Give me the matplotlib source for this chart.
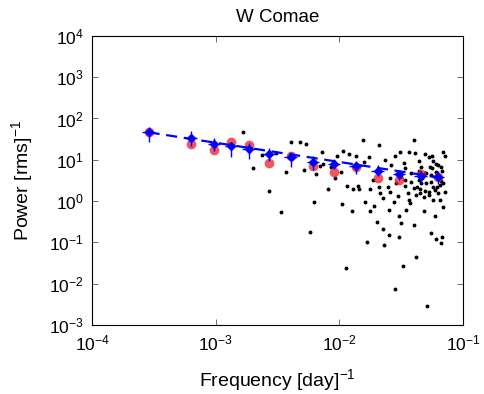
import numpy as np
import matplotlib.pyplot as plt

plt.rcParams['font.family'] = ['Liberation Sans', 'DejaVu Sans']
plt.rcParams['mathtext.fontset'] = 'custom'
plt.rcParams['mathtext.rm'] = 'Liberation Sans'

# raw periodogram (log10 frequency, log10 power)
raw_logf = [-2.78, -2.70, -2.63, -2.57, -2.51, -2.47, -2.43, -2.39, -2.32, -2.27,
            -2.29, -2.24, -2.21, -2.19, -2.16, -2.14, -2.13, -2.09, -2.07, -2.04,
            -2.02, -1.99, -1.98, -1.97, -1.95, -1.94, -1.92, -1.90, -1.89, -1.87,
            -1.85, -1.84, -1.81, -1.80, -1.79, -1.78, -1.76, -1.75, -1.75, -1.73,
            -1.72, -1.70, -1.68, -1.68, -1.67, -1.65, -1.65, -1.64, -1.63, -1.61,
            -1.60, -1.60, -1.59, -1.58, -1.56, -1.55, -1.55, -1.54, -1.53, -1.52,
            -1.52, -1.51, -1.50, -1.50, -1.49, -1.48, -1.47, -1.47, -1.46, -1.45,
            -1.44, -1.44, -1.43, -1.42, -1.42, -1.40, -1.40, -1.39, -1.38, -1.38,
            -1.37, -1.36, -1.36, -1.35, -1.34, -1.32, -1.32, -1.31, -1.31, -1.30,
            -1.29, -1.28, -1.28, -1.27, -1.26, -1.26, -1.25, -1.24, -1.24, -1.23,
            -1.22, -1.22, -1.21, -1.20, -1.20, -1.19, -1.18, -1.18, -1.17, -1.16,
            -1.16, -1.16, -1.15, -1.15,
            -1.36, -1.33, -1.30, -1.26, -1.23, -1.19, -1.34, -1.28, -1.22, -1.18,
            -1.47, -1.59, -1.40, -1.24, -1.21, -1.17, -1.31, -1.25, -1.35, -1.19]
raw_logp = [1.67, 0.79, 1.11, 0.24, 1.16, -0.26, 0.71, 1.42, 1.43, 1.39,
            0.75, -0.75, -0.01, 0.66, 0.84, 1.20, 0.89, 0.29, 0.83, 0.56,
            1.10, 0.70, -0.07, 1.22, -1.62, 0.37, 1.13, -0.23, 0.29, 1.09,
            0.37, 0.29, 1.48, 0.95, -0.02, -1.00, 1.06, -0.25, 0.29, 0.51,
            -0.11, -0.51, 1.35, 0.35, 0.19, 0.07, -0.67, -1.07, 1.00, 0.35,
            -0.21, -0.83, 0.23, 0.88, -0.01, -2.13, 1.10, 0.43, 0.13, -0.35,
            -0.88, 1.18, -0.54, 0.59, -1.57, 0.92, 0.37, 0.52, -0.22, 0.19,
            1.18, 0.03, -0.05, 0.47, 0.67, -0.59, 1.49, 1.16, 0.15, -1.36,
            0.35, 0.98, 0.51, 0.19, 0.83, 0.11, -0.25, 1.14, 0.67, 0.43,
            -2.53, 1.06, 0.23, 0.83, -0.78, 0.47, 1.10, 0.03, 0.98, -0.37,
            0.71, -0.92, 0.35, 0.19, 0.87, 0.03, -1.02, 0.48, -0.86, 1.18,
            -0.15, 0.43, 0.23, 1.08,
            0.73, 0.55, 0.67, 0.63, 0.27, 0.55, 0.43, 0.15, 0.90, 0.83,
            0.79, 0.55, 0.31, 0.35, 0.62, 0.72, 0.25, 0.80, 0.30, 0.40]

# binned power spectrum
bin_freq = [2.86e-4, 6.3e-4, 9.7e-4, 1.32e-3, 1.84e-3, 2.69e-3, 4.02e-3,
            6.1e-3, 9.0e-3, 1.35e-2, 2.03e-2, 3.02e-2, 4.53e-2, 6.27e-2]
bin_power = [46, 33, 24, 21, 18, 14, 11.7, 9.0, 7.9, 6.9, 5.4, 4.5, 4.0, 3.8]
err_up_dex = [0.14, 0.17, 0.14, 0.09, 0.15, 0.13, 0.13, 0.13, 0.12, 0.13, 0.13, 0.11, 0.12, 0.14]
err_lo_dex = [0.24, 0.19, 0.17, 0.25, 0.23, 0.17, 0.24, 0.19, 0.13, 0.19, 0.13, 0.14, 0.16, 0.17]
model_power = [46, 24, 17, 27, 23, 8.4, 12.6, 7.2, 5.1, 6.6, 3.66, 3.2, 4.6, 3.8]

# power-law fit P = A * f^alpha
fit_amp = 1.04
fit_index = -0.465

bin_freq = np.array(bin_freq)
bin_power = np.array(bin_power)
yerr = [bin_power * (1 - 10**-np.array(err_lo_dex)),
        bin_power * (10**np.array(err_up_dex) - 1)]
xerr = [bin_freq * (1 - 10**-0.05), bin_freq * (10**0.05 - 1)]

fig = plt.figure(figsize=(4.85, 3.94), dpi=100)
ax = fig.add_axes([0.19, 0.175, 0.765, 0.734])

ax.plot(10**np.array(raw_logf), 10**np.array(raw_logp), 'o', color='black',
        markersize=1.8, zorder=2)
ax.plot(bin_freq, model_power, 'o', color='#ee1c24', alpha=0.75,
        markersize=7, markeredgewidth=0, zorder=3)
ax.errorbar(bin_freq, bin_power, yerr=yerr, xerr=xerr, fmt='D', color='blue',
            markersize=4.5, elinewidth=1.0, capsize=0, zorder=4)
fline = np.array([bin_freq[0], bin_freq[-1]])
ax.plot(fline, fit_amp * fline**fit_index, '--', color='blue', linewidth=1.6,
        dashes=(5, 3), zorder=5)

ax.set_xscale('log')
ax.set_yscale('log')
ax.set_xlim(1e-4, 1e-1)
ax.set_ylim(1e-3, 1e4)
ax.set_xticks([1e-4, 1e-3, 1e-2, 1e-1])
ax.set_yticks([1e-3, 1e-2, 1e-1, 1e0, 1e1, 1e2, 1e3, 1e4])
ax.minorticks_off()
ax.tick_params(direction='in', top=True, right=True, length=4, width=0.6,
               labelsize=12.5, color='#555555', pad=6)
for s in ax.spines.values():
    s.set_linewidth(0.8)

ax.set_xlabel('Frequency [day]$^{-1}$', fontsize=14, labelpad=10)
ax.set_ylabel('Power [rms]$^{-1}$', fontsize=14, labelpad=9)
ax.set_title('W Comae', fontsize=13.5, pad=10)

fig.savefig('out.png', dpi=100)
